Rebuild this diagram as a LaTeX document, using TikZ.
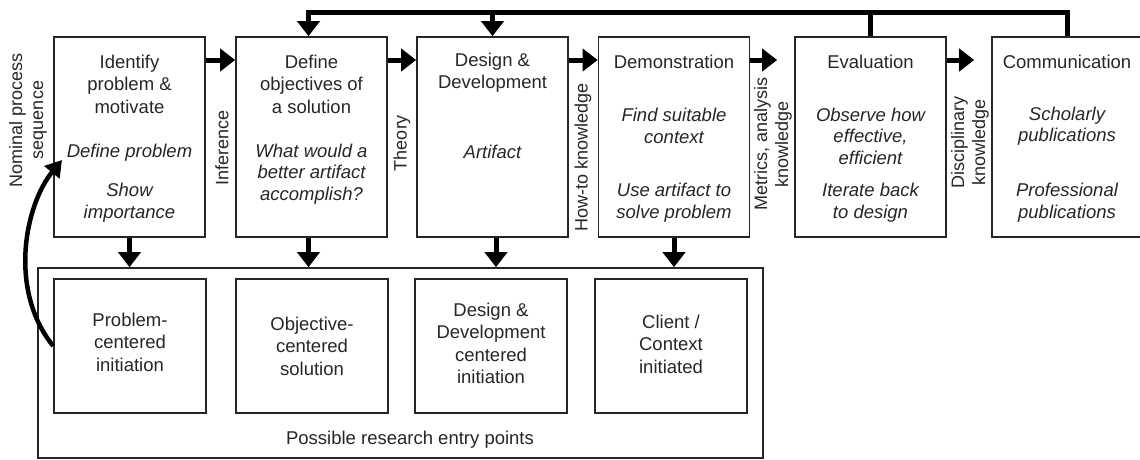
\documentclass[tikz,border=0pt]{standalone}
\usepackage{fontspec}
\setmainfont{Liberation Sans}
\usetikzlibrary{arrows.meta}
\begin{document}
\begin{tikzpicture}[x=1pt,y=-1pt,
  box/.style={draw=black!85, line width=1.6pt, minimum width=151pt, minimum height=200pt, inner sep=0pt},
  sbox/.style={draw=black!85, line width=1.6pt, minimum width=152pt, minimum height=134pt, inner sep=0pt},
  txt/.style={font=\fontsize{18.5}{22.5}\selectfont, align=center, text=black!85, inner sep=0pt},
  itx/.style={font=\fontsize{18.5}{21.5}\selectfont\itshape, align=center, text=black!85, inner sep=0pt},
  rot/.style={font=\fontsize{18}{21}\selectfont, align=center, text=black!85, inner sep=0pt, rotate=90},
  arr/.style={line width=5pt, -{Triangle[length=15pt,width=22pt]}},
  fb/.style={line width=5pt, line join=miter},
]
\useasboundingbox (0,0) rectangle (1140,459);

% top process boxes
\node[box] (b1) at (129.5,137) {};
\node[box] (b2) at (311.5,137) {};
\node[box] (b3) at (492.5,137) {};
\node[box] (b4) at (674,137) {};
\node[box] (b5) at (870.5,137) {};
\node[box] (b6) at (1067.5,137) {};

% entry points
\node[draw=black!85, line width=1.6pt, minimum width=725pt, minimum height=190pt, inner sep=0pt] (entry) at (400.5,363) {};
\node[sbox] (sA) at (130,346) {};
\node[sbox] (sB) at (312,346) {};
\node[sbox] (sC) at (491,346) {};
\node[sbox] (sD) at (671,346) {};

% texts in top boxes
\node[txt] (t1) at (129.5,84) {Identify\\problem \&\\motivate};
\node[itx] (i1a) at (129.5,153) {Define problem};
\node[itx] (i1b) at (129.5,202.5) {Show\\importance};
\node[txt] (t2) at (311.5,84) {Define\\objectives of\\a solution};
\node[itx] (i2) at (311.5,174) {What would a\\better artifact\\accomplish?};
\node[txt] (t3) at (492.5,72.5) {Design \&\\Development};
\node[itx] (i3) at (492.5,152) {Artifact};
\node[txt] (t4) at (674,62) {Demonstration};
\node[itx] (i4a) at (674,126) {Find suitable\\context};
\node[itx] (i4b) at (674,202.5) {Use artifact to\\solve problem};
\node[txt] (t5) at (870.5,62) {Evaluation};
\node[itx] (i5a) at (870.5,136) {Observe how\\effective,\\efficient};
\node[itx] (i5b) at (870.5,202.5) {Iterate back\\to design};
\node[txt] (t6) at (1067,62) {Communication};
\node[itx] (i6a) at (1067,126) {Scholarly\\publications};
\node[itx] (i6b) at (1067,202.5) {Professional\\publications};

% texts in entry boxes
\node[txt] (pA) at (130,342) {Problem-\\centered\\initiation};
\node[txt] (pB) at (312,346) {Objective-\\centered\\solution};
\node[txt] (pC) at (491,343.5) {Design \&\\Development\\centered\\initiation};
\node[txt] (pD) at (671,344) {Client /\\Context\\initiated};
\node[txt] (pe) at (410,440) {Possible research entry points};

% rotated labels
\node[rot] (nom) at (28,120) {Nominal process\\sequence};
\node[rot] (inf) at (222,148) {Inference};
\node[rot] (the) at (402,143) {Theory};
\node[rot] (how) at (583,157) {How-to knowledge};
\node[rot] (met) at (773,144) {Metrics, analysis\\knowledge};
\node[rot] (dis) at (970,142) {Disciplinary\\knowledge};

% process arrows
\coordinate (ay) at (0,60);
\draw[arr] (b1.east |- ay) -- (b2.west |- ay);
\draw[arr] (b2.east |- ay) -- (b3.west |- ay);
\draw[arr] (b3.east |- ay) -- (b4.west |- ay);
\draw[arr, shorten >=17pt] (b4.east |- ay) -- (b5.west |- ay);
\draw[arr, shorten >=17pt] (b5.east |- ay) -- (b6.west |- ay);

% down arrows to entry points
\coordinate (b2s) at ([xshift=-3pt]b2.south);
\coordinate (b3s) at ([xshift=3.5pt]b3.south);
\draw[arr] (b1.south) -- (b1.south |- entry.north);
\draw[arr] (b2s) -- (b2s |- entry.north);
\draw[arr] (b3s) -- (b3s |- entry.north);
\draw[arr] (b4.south) -- (b4.south |- entry.north);

% feedback loop on top
\coordinate (ty) at (0,12);
\coordinate (b2n) at ([xshift=-3pt]b2.north);
\draw[fb, -{Triangle[length=15pt,width=22pt]}] (b6.north) |- (b2n |- ty) -- (b2n);
\draw[fb] (b5.north) -- (b5.north |- ty);
\draw[arr] (b3.north |- ty) -- (b3.north);

% nominal process sequence curve
\coordinate (ct) at (62,160);
\draw[line width=4.5pt, -{Triangle[length=16pt,width=19pt]}] (sA.west) .. controls (8,290) and (25,205) .. (ct);
\end{tikzpicture}
\end{document}
